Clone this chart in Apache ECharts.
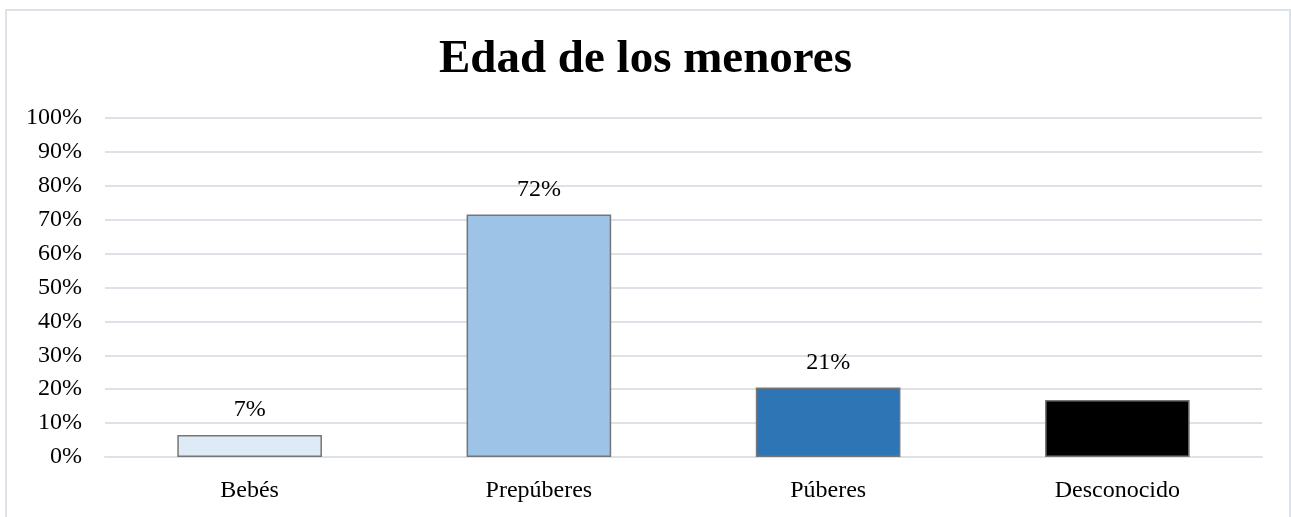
<!DOCTYPE html>
<html>
<head>
<meta charset="utf-8">
<script src="https://cdn.jsdelivr.net/npm/echarts@6/dist/echarts.min.js"></script>
<style>
  html, body { margin: 0; padding: 0; background: #fff; }
  #main { width: 1291px; height: 517px; }
</style>
</head>
<body>
<div id="main"></div>
<script>
var categories = ['Bebés', 'Prepúberes', 'Púberes', 'Desconocido'];
var values = [0.065, 0.715, 0.205, 0.168];
var barColors = ['#DEEBF7', '#9DC3E6', '#2E75B6', '#000000'];
var showLabel = [true, true, true, false];

var myChart = echarts.init(document.getElementById('main'));
var serif = '"Liberation Serif", "DejaVu Serif", serif';

var option = {
    animation: false,
    title: {
        text: 'Edad de los menores',
        left: 'center',
        top: 31,
        textStyle: {
            fontFamily: serif,
            fontSize: 47,
            fontWeight: 'bold',
            color: '#000'
        }
    },
    graphic: [{
        type: 'rect',
        shape: { x: 6, y: 10, width: 1284, height: 520 },
        style: { fill: 'none', stroke: '#dde1e8', lineWidth: 2 },
        silent: true
    }],
    grid: {
        left: 105,
        right: 29,
        top: 118,
        bottom: 60
    },
    xAxis: {
        type: 'category',
        data: categories,
        axisLine: { show: true, lineStyle: { color: '#dde1e8', width: 2 } },
        axisTick: { show: false },
        axisLabel: {
            fontFamily: serif,
            fontSize: 24,
            color: '#000',
            margin: 22
        }
    },
    yAxis: {
        type: 'value',
        min: 0,
        max: 1,
        interval: 0.1,
        axisLine: { show: false },
        axisTick: { show: false },
        splitLine: { lineStyle: { color: '#dde1e8', width: 2 } },
        axisLabel: {
            fontFamily: serif,
            fontSize: 24,
            color: '#000',
            margin: 23,
            formatter: function (v) { return Math.round(v * 100) + '%'; }
        }
    },
    series: [{
        type: 'bar',
        barWidth: '50%',
        data: values.map(function (v, i) {
            return {
                value: v,
                itemStyle: { color: barColors[i] },
                label: { show: showLabel[i] }
            };
        }),
        itemStyle: {
            borderColor: '#767676',
            borderWidth: 1.5
        },
        label: {
            position: 'top',
            distance: 13,
            fontFamily: serif,
            fontSize: 24,
            color: '#000',
            formatter: function (p) { return Math.round(p.value * 100) + '%'; }
        }
    }]
};

myChart.setOption(option);
</script>
</body>
</html>
